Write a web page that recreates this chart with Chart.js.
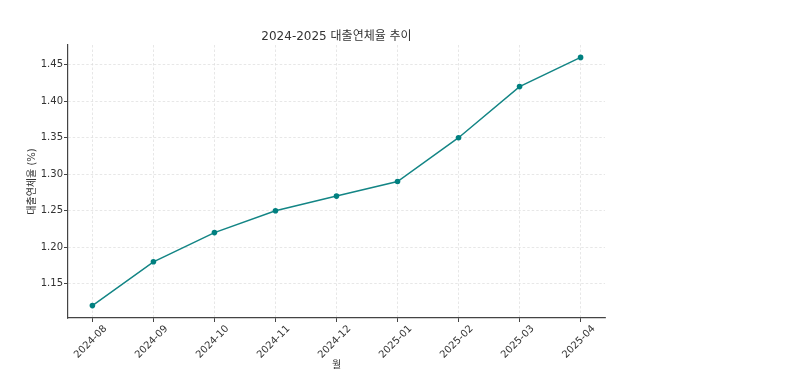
<!DOCTYPE html>
<html>
<head>
<meta charset="utf-8">
<script src="https://cdn.jsdelivr.net/npm/chart.js@4"></script>
<style>
  html, body { margin: 0; padding: 0; background: #fff; }
  #wrap { width: 785px; height: 371px; }
</style>
</head>
<body>
<div id="wrap"><canvas id="rateChart" width="785" height="371"></canvas></div>
<script>
const months = ['2024-08', '2024-09', '2024-10', '2024-11', '2024-12', '2025-01', '2025-02', '2025-03', '2025-04'];
const rates = [1.12, 1.18, 1.22, 1.25, 1.27, 1.29, 1.35, 1.42, 1.46];
const yTicks = [1.15, 1.20, 1.25, 1.30, 1.35, 1.40, 1.45];

const chartTitle = '2024-2025 대출연체율 추이';
const xTitle = '월';
const yTitle = '대출연체율 (%)';

const FONT = "'DejaVu Sans', 'Noto Sans CJK KR', sans-serif";
const TEXT = '#333333';

// titles drawn by hand so they center on the plot area like the original
const titlesPlugin = {
    id: 'titles',
    afterDraw(chart) {
        const { ctx, chartArea } = chart;
        const cx = (chartArea.left + chartArea.right) / 2;
        ctx.save();
        ctx.fillStyle = TEXT;
        ctx.textAlign = 'center';
        ctx.textBaseline = 'middle';
        ctx.font = `12px ${FONT}`;
        ctx.fillText(chartTitle, cx, 37);
        ctx.font = `10px ${FONT}`;
        ctx.fillText(xTitle, cx, 365);
        ctx.translate(32, (chartArea.top + chartArea.bottom) / 2);
        ctx.rotate(-Math.PI / 2);
        ctx.fillText(yTitle, 0, 0);
        ctx.restore();
    }
};

const points = rates.map((v, i) => ({ x: i, y: v }));

new Chart(document.getElementById('rateChart').getContext('2d'), {
    type: 'line',
    data: {
        datasets: [{
            data: points,
            borderColor: '#138585',
            backgroundColor: '#008080',
            borderWidth: 1.5,
            pointRadius: 2.8,
            pointBorderWidth: 0,
            pointHoverRadius: 3,
            tension: 0
        }]
    },
    options: {
        responsive: false,
        animation: false,
        layout: { padding: { top: 45, right: 180, left: 0, bottom: 0 } },
        plugins: {
            legend: { display: false },
            tooltip: { enabled: false }
        },
        scales: {
            x: {
                type: 'linear',
                min: -0.4,
                max: 8.4,
                afterFit: s => { s.height = 53; },
                grid: { color: '#dcdcdc', lineWidth: 0.7, tickColor: '#444', tickLength: 4, tickWidth: 1 },
                border: { display: true, color: '#444', width: 1.2, dash: [2.5, 2] },
                ticks: {
                    stepSize: 1,
                    includeBounds: false,
                    autoSkip: false,
                    minRotation: 45,
                    maxRotation: 45,
                    labelOffset: 13,
                    padding: 1,
                    color: TEXT,
                    font: { family: FONT, size: 10 },
                    callback: v => months[v] ?? ''
                }
            },
            y: {
                min: 1.103,
                max: 1.477,
                afterFit: s => { s.width = 68; },
                afterBuildTicks: s => { s.ticks = yTicks.map(v => ({ value: v })); },
                grid: { color: '#dcdcdc', lineWidth: 0.7, tickColor: '#444', tickLength: 4, tickWidth: 1 },
                border: { display: true, color: '#444', width: 1.2, dash: [2.5, 2] },
                ticks: {
                    padding: 1,
                    color: TEXT,
                    font: { family: FONT, size: 10 },
                    callback: v => Number(v).toFixed(2)
                }
            }
        }
    },
    plugins: [titlesPlugin]
});
</script>
</body>
</html>
